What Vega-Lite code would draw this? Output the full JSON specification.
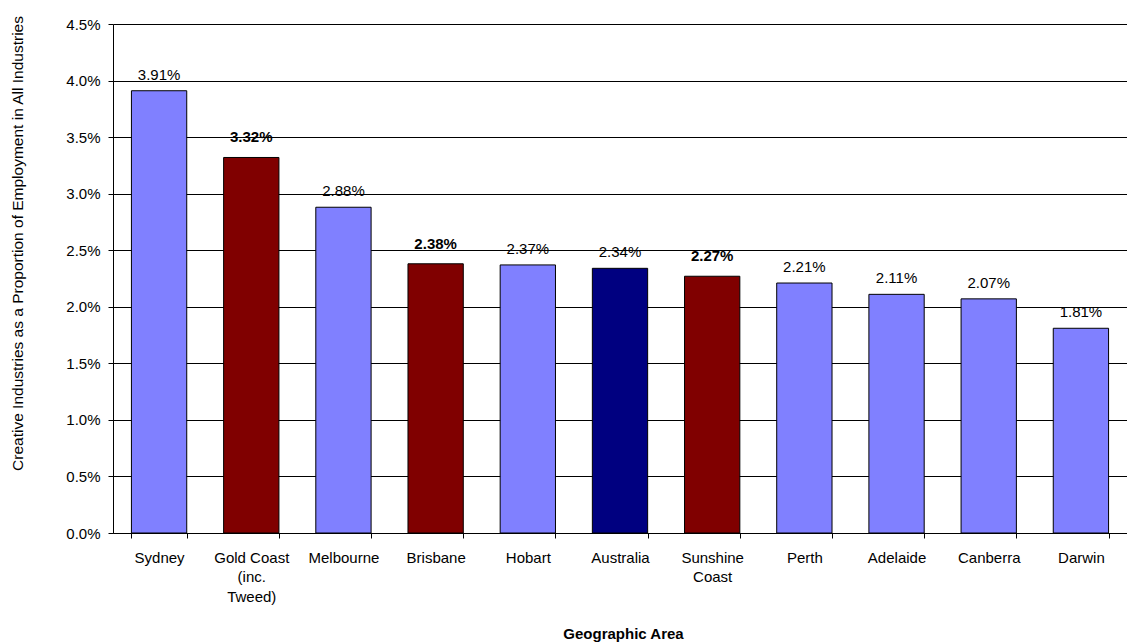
{
  "$schema": "https://vega.github.io/schema/vega-lite/v6.json",
  "autosize": {"type": "none"},
  "width": 1014,
  "height": 509,
  "padding": {"left": 113, "top": 24, "right": 0, "bottom": 111},
  "background": "white",
  "config": {
    "view": {"stroke": null},
    "font": "Liberation Sans",
    "axis": {"labelFont": "Liberation Sans", "titleFont": "Liberation Sans", "labelColor": "#000", "titleColor": "#000"}
  },
  "data": {
    "values": [
      {"area": "Sydney", "share": 0.0391, "group": "Other"},
      {"area": "Gold Coast (inc. Tweed)", "share": 0.0332, "group": "Queensland"},
      {"area": "Melbourne", "share": 0.0288, "group": "Other"},
      {"area": "Brisbane", "share": 0.0238, "group": "Queensland"},
      {"area": "Hobart", "share": 0.0237, "group": "Other"},
      {"area": "Australia", "share": 0.0234, "group": "Australia"},
      {"area": "Sunshine Coast", "share": 0.0227, "group": "Queensland"},
      {"area": "Perth", "share": 0.0221, "group": "Other"},
      {"area": "Adelaide", "share": 0.0211, "group": "Other"},
      {"area": "Canberra", "share": 0.0207, "group": "Other"},
      {"area": "Darwin", "share": 0.0181, "group": "Other"}
    ]
  },
  "encoding": {
    "x": {
      "field": "area", "type": "nominal", "sort": null,
      "scale": {"paddingInner": 0.4, "paddingOuter": 0.2},
      "axis": {
        "title": "Geographic Area",
        "titleFontWeight": "bold", "titleFontSize": 15,
        "titleX": 510, "titleY": 100, "titleBaseline": "middle", "titleAlign": "center",
        "labelAngle": 0, "labelFontSize": 15, "labelLineHeight": 19.5,
        "labelPadding": 12, "labelBaseline": "top",
        "labelExpr": "datum.label == 'Gold Coast (inc. Tweed)' ? ['Gold Coast', '(inc.', 'Tweed)'] : datum.label == 'Sunshine Coast' ? ['Sunshine', 'Coast'] : datum.label",
        "tickBand": "extent", "tickSize": 5, "tickColor": "#000",
        "domainColor": "#000", "grid": false
      }
    },
    "y": {
      "field": "share", "type": "quantitative",
      "scale": {"domain": [0, 0.045], "nice": false},
      "axis": {
        "title": "Creative Industries as a Proportion of Employment in All Industries",
        "titleFontWeight": "normal", "titleFontSize": 15.5,
        "titleX": -95.5, "titleY": 219, "titleAngle": -90, "titleAlign": "center", "titleBaseline": "middle",
        "values": [0, 0.005, 0.01, 0.015, 0.02, 0.025, 0.03, 0.035, 0.04, 0.045],
        "format": ".1%", "labelFontSize": 15, "labelPadding": 8,
        "tickSize": 5, "tickColor": "#000", "domainColor": "#000",
        "grid": true, "gridColor": "#000", "gridWidth": 1
      }
    }
  },
  "layer": [
    {
      "mark": {"type": "bar", "stroke": "#000", "strokeWidth": 1},
      "encoding": {
        "color": {
          "field": "group", "type": "nominal",
          "scale": {"domain": ["Other", "Queensland", "Australia"], "range": ["#8080FF", "#800000", "#000080"]},
          "legend": null
        }
      }
    },
    {
      "transform": [{"filter": "datum.group != 'Queensland'"}],
      "mark": {"type": "text", "baseline": "alphabetic", "dy": -11, "fontSize": 15, "color": "#000"},
      "encoding": {
        "text": {"field": "share", "type": "quantitative", "format": ".2%"}
      }
    },
    {
      "transform": [{"filter": "datum.group == 'Queensland'"}],
      "mark": {"type": "text", "baseline": "alphabetic", "dy": -15, "fontSize": 15, "fontWeight": "bold", "color": "#000"},
      "encoding": {
        "text": {"field": "share", "type": "quantitative", "format": ".2%"}
      }
    }
  ]
}
